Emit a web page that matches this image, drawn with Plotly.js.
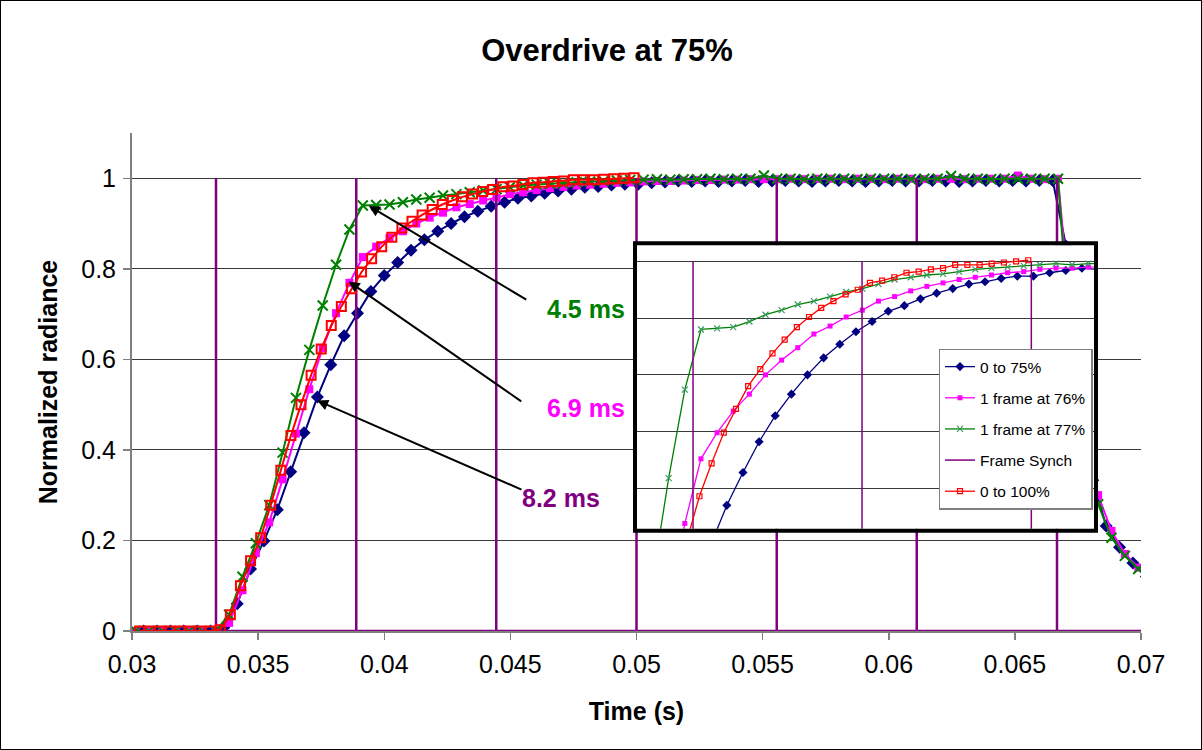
<!DOCTYPE html>
<html>
<head>
<meta charset="utf-8">
<script src="https://cdn.plot.ly/plotly-3.0.1.min.js"></script>
<style>
  html, body { margin: 0; padding: 0; background: #fff; }
  #wrap { position: relative; width: 1202px; height: 750px; }
  #chart { width: 1202px; height: 750px; }
  #frame { position: absolute; left: 0; top: 0; width: 1200px; height: 748px; border: 1px solid #000; pointer-events: none; }
</style>
</head>
<body>
<div id="wrap"><div id="chart"></div><div id="frame"></div></div>
<script>
// ---------- DATA ----------
const seriesNames = ["0 to 75%", "1 frame at 76%", "1 frame at 77%", "Frame Synch", "0 to 100%"];

// "0 to 75%" (blue diamonds)
const blueT = [0.03046, 0.03099, 0.03152, 0.03205, 0.03258, 0.03311, 0.03364, 0.03417, 0.03470, 0.03523,
  0.03576, 0.03629, 0.03682, 0.03735, 0.03788, 0.03841, 0.03894, 0.03947, 0.04000, 0.04053,
  0.04106, 0.04159, 0.04212, 0.04265, 0.04318, 0.04371, 0.04424, 0.04477, 0.04530, 0.04583,
  0.04636, 0.04689, 0.04742, 0.04795, 0.04848, 0.04901, 0.04954, 0.05007, 0.05060, 0.05113,
  0.05166, 0.05219, 0.05272, 0.05325, 0.05378, 0.05431, 0.05484, 0.05537, 0.05590, 0.05643,
  0.05696, 0.05749, 0.05802, 0.05855, 0.05908, 0.05961, 0.06014, 0.06067, 0.06120, 0.06173,
  0.06226, 0.06279, 0.06332, 0.06385, 0.06438, 0.06491, 0.06544, 0.06597, 0.06650, 0.06703,
  0.06756, 0.06809, 0.06862, 0.06915, 0.06968, 0.07021];
const blueY = [0, 0, 0, 0, 0, 0, 0.008, 0.060, 0.137, 0.199,
  0.268, 0.352, 0.438, 0.517, 0.588, 0.652, 0.702, 0.750, 0.785, 0.814,
  0.841, 0.864, 0.883, 0.900, 0.915, 0.927, 0.938, 0.947, 0.956, 0.961,
  0.967, 0.972, 0.976, 0.980, 0.982, 0.985, 0.987, 0.987, 0.990, 0.992,
  0.994, 0.993, 0.994, 0.993, 0.994, 0.995, 0.993, 0.994, 0.995, 0.994,
  0.993, 0.994, 0.995, 0.994, 0.993, 0.994, 0.995, 0.994, 0.994, 0.995,
  0.994, 0.993, 0.994, 0.995, 0.994, 0.995, 0.994, 0.995, 0.995, 0.850,
  0.550, 0.333, 0.232, 0.185, 0.150, 0.120];

// "1 frame at 76%" (magenta squares) and "1 frame at 77%" (green crosses) share one time base
const pgT = [0.03014, 0.03067, 0.03120, 0.03173, 0.03226, 0.03279, 0.03332, 0.03385, 0.03438, 0.03491,
  0.03544, 0.03597, 0.03650, 0.03703, 0.03756, 0.03809, 0.03862, 0.03915, 0.03968, 0.04021,
  0.04074, 0.04127, 0.04180, 0.04233, 0.04286, 0.04339, 0.04392, 0.04445, 0.04498, 0.04551,
  0.04604, 0.04657, 0.04710, 0.04763, 0.04816, 0.04869, 0.04922, 0.04975, 0.05028, 0.05081,
  0.05134, 0.05187, 0.05240, 0.05293, 0.05346, 0.05399, 0.05452, 0.05505, 0.05558, 0.05611,
  0.05664, 0.05717, 0.05770, 0.05823, 0.05876, 0.05929, 0.05982, 0.06035, 0.06088, 0.06141,
  0.06194, 0.06247, 0.06300, 0.06353, 0.06406, 0.06459, 0.06512, 0.06565, 0.06618, 0.06671,
  0.06724, 0.06777, 0.06830, 0.06883, 0.06936, 0.06989, 0.07042];
const pinkY = [0, 0, 0, 0, 0, 0, 0, 0.018, 0.090, 0.172,
  0.240, 0.335, 0.436, 0.534, 0.625, 0.702, 0.769, 0.826, 0.849, 0.868,
  0.883, 0.900, 0.913, 0.924, 0.936, 0.943, 0.951, 0.957, 0.965, 0.969,
  0.974, 0.978, 0.981, 0.984, 0.986, 0.988, 0.990, 0.991, 0.993, 0.994,
  0.994, 0.995, 0.996, 0.996, 0.997, 0.997, 0.998, 0.998, 0.998, 0.999,
  0.998, 0.999, 0.999, 0.998, 0.999, 0.999, 0.998, 0.999, 0.999, 0.998,
  0.999, 0.999, 0.998, 0.999, 0.999, 0.999, 1.006, 0.999, 0.998, 0.999,
  0.680, 0.450, 0.300, 0.221, 0.170, 0.140, 0.115];
const greenY = [0, 0, 0, 0, 0, 0, 0, 0.036, 0.120, 0.194,
  0.278, 0.394, 0.515, 0.621, 0.719, 0.809, 0.887, 0.940, 0.941, 0.942,
  0.947, 0.953, 0.957, 0.962, 0.965, 0.969, 0.973, 0.976, 0.980, 0.984,
  0.986, 0.988, 0.989, 0.991, 0.993, 0.994, 0.995, 0.996, 0.997, 0.998,
  0.997, 0.998, 0.998, 0.999, 0.998, 0.999, 0.999, 1.006, 0.999, 0.999,
  0.998, 0.999, 0.999, 0.999, 0.998, 0.999, 0.999, 0.999, 0.998, 0.999,
  0.999, 1.005, 0.999, 0.999, 0.998, 0.999, 0.999, 0.999, 0.999, 0.999,
  0.600, 0.400, 0.280, 0.206, 0.166, 0.137, 0.110];

// "0 to 100%" (red open squares)
const redT = [0.0303, 0.0307, 0.0311, 0.0315, 0.0319, 0.0323, 0.0327, 0.0331, 0.0335, 0.0339,
  0.0343, 0.0347, 0.0351, 0.0355, 0.0359, 0.0363, 0.0367, 0.0371, 0.0375, 0.0379,
  0.0383, 0.0387, 0.0391, 0.0395, 0.0399, 0.0403, 0.0407, 0.0411, 0.0415, 0.0419,
  0.0423, 0.0427, 0.0431, 0.0435, 0.0439, 0.0443, 0.0447, 0.0451, 0.0455, 0.0459,
  0.0463, 0.0467, 0.0471, 0.0475, 0.0479, 0.0483, 0.0487, 0.0491, 0.0495, 0.0499];
const redY = [0, 0, 0, 0, 0, 0, 0, 0, 0.003, 0.036,
  0.100, 0.155, 0.206, 0.278, 0.355, 0.432, 0.500, 0.565, 0.623, 0.675,
  0.717, 0.756, 0.793, 0.822, 0.849, 0.870, 0.890, 0.905, 0.919, 0.931,
  0.942, 0.951, 0.959, 0.965, 0.971, 0.975, 0.981, 0.983, 0.986, 0.990,
  0.991, 0.993, 0.994, 0.997, 0.997, 0.997, 0.998, 0.999, 1.000, 1.001];

// "Frame Synch": pulse times, pulse height, end of the record
const frameTimes = [0.03333, 0.03889, 0.04444, 0.05000, 0.05556, 0.06111, 0.06667];
const frameHigh = 1;
const frameEnd = 0.0725;

// Callouts
const callouts = [
  {text: "4.5 ms", color: "#008000", head: [0.03939, 0.939], tail: [0.04569, 0.730], label: [0.04800, 0.712]},
  {text: "6.9 ms", color: "#FF00FF", head: [0.03859, 0.772], tail: [0.04549, 0.505], label: [0.04800, 0.492]},
  {text: "8.2 ms", color: "#800080", head: [0.03734, 0.509], tail: [0.04550, 0.311], label: [0.04700, 0.294]}
];

// ---------- BUILD ----------
const frameX = [], frameY = [];
frameTimes.forEach(t => { frameX.push(t, t, t); frameY.push(0, frameHigh, 0); });
frameX.push(frameEnd); frameY.push(0);

const FONT = "Liberation Sans, Arial, sans-serif";
const C = {blue: "#000080", pink: "#FF00FF", green: "#008000", purple: "#800080", red: "#FF0000"};

function makeSet(inset) {
  const lw = inset ? 1.3 : 2;
  const sfx = inset ? "2" : "";
  const common = {xaxis: "x" + sfx, yaxis: "y" + sfx, mode: "lines+markers", showlegend: inset, hoverinfo: "skip"};
  return [
    Object.assign({}, common, {name: seriesNames[0], legendgroup: "g0", legendrank: 1, x: blueT, y: blueY,
      line: {color: C.blue, width: lw}, marker: {symbol: "diamond", size: inset ? 7 : 10, color: C.blue}}),
    Object.assign({}, common, {name: seriesNames[1], legendgroup: "g1", legendrank: 2, x: pgT, y: pinkY,
      line: {color: C.pink, width: lw}, marker: {symbol: "square", size: inset ? 5 : 8, color: C.pink}}),
    Object.assign({}, common, {name: seriesNames[2], legendgroup: "g2", legendrank: 3, x: pgT, y: greenY,
      line: {color: C.green, width: lw}, marker: {symbol: "x-thin", size: inset ? 6 : 10, color: inset ? "#3c9a64" : C.green,
      line: {color: inset ? "#3c9a64" : C.green, width: inset ? 1.2 : 2}}}),
    Object.assign({}, common, {name: seriesNames[3], legendgroup: "g3", legendrank: 4, x: frameX, y: frameY, mode: "lines",
      line: {color: C.purple, width: inset ? 1.5 : 2.5}}),
    Object.assign({}, common, {name: seriesNames[4], legendgroup: "g4", legendrank: 5, x: redT, y: redY,
      line: {color: C.red, width: lw}, marker: {symbol: "square-open", size: inset ? 5 : 9, color: C.red,
      line: {color: C.red, width: inset ? 1.2 : 2}}})
  ];
}

const data = makeSet(false).concat(makeSet(true));

// pixel helpers for placing the inset (plot area: x 132..1141, y 132.7..631.3)
const PL = 132, PR = 1141, PT = 132.7, PB = 631.3;
const px2paperX = p => (p - PL) / (PR - PL);
const px2paperY = p => (PB - p) / (PB - PT);

const annotations = [];
callouts.forEach(c => {
  annotations.push({x: c.head[0], y: c.head[1], ax: c.tail[0], ay: c.tail[1], xref: "x", yref: "y", axref: "x", ayref: "y",
    text: "", showarrow: true, arrowhead: 2, arrowsize: 1.1, arrowwidth: 2, arrowcolor: "#000", standoff: 0});
  annotations.push({x: c.label[0], y: c.label[1], xref: "x", yref: "y", text: "<b>" + c.text + "</b>", showarrow: false,
    font: {family: FONT, size: 25, color: c.color}});
});

const layout = {
  width: 1202, height: 750,
  paper_bgcolor: "#fff", plot_bgcolor: "#fff",
  margin: {l: PL, r: 1202 - PR, t: PT, b: 750 - PB, pad: 0},
  font: {family: FONT, color: "#000", size: 25},
  title: {text: "<b>Overdrive at 75%</b>", font: {family: FONT, size: 31, color: "#000"},
    xref: "container", yref: "container", x: 0.505, y: 1 - 50 / 750, xanchor: "center", yanchor: "middle"},
  xaxis: {domain: [0, 1], range: [0.03, 0.07], dtick: 0.005, tick0: 0.03, showgrid: false, zeroline: false,
    showline: true, linecolor: "#808080", linewidth: 1.5, ticks: "outside", ticklen: 7, tickwidth: 1.5, tickcolor: "#808080",
    ticklabelstandoff: 3, tickfont: {family: FONT, size: 25, color: "#000"},
    title: {text: "<b>Time (s)</b>", font: {family: FONT, size: 25, color: "#000"}, standoff: 26}},
  yaxis: {domain: [0, 1], range: [0, 1.1], dtick: 0.2, tick0: 0, showgrid: true, gridcolor: "#3a3a3a", gridwidth: 1,
    zeroline: false, showline: true, linecolor: "#808080", linewidth: 2, ticks: "outside", ticklen: 7, tickwidth: 1.5,
    tickcolor: "#808080", ticklabelstandoff: 2, tickfont: {family: FONT, size: 25, color: "#000"},
    title: {text: "<b>Normalized radiance</b>", font: {family: FONT, size: 25, color: "#000"}, standoff: 16}},
  xaxis2: {domain: [px2paperX(637), px2paperX(1094)], anchor: "y2", range: [0.03705, 0.052058],
    showgrid: false, zeroline: false, showline: false, showticklabels: false, ticks: ""},
  yaxis2: {domain: [px2paperY(529), px2paperY(245)], anchor: "x2", range: [0.7643, 1.0143], dtick: 0.05, tick0: 0,
    showgrid: true, gridcolor: "#3a3a3a", gridwidth: 1, zeroline: false, showline: false, showticklabels: false, ticks: ""},
  shapes: [
    {type: "rect", xref: "paper", yref: "paper", layer: "above",
      x0: px2paperX(635), x1: px2paperX(1096), y0: px2paperY(531), y1: px2paperY(243),
      line: {color: "#000", width: 4}, fillcolor: "rgba(0,0,0,0)"}
  ],
  legend: {x: px2paperX(938.5), y: px2paperY(348.5), xanchor: "left", yanchor: "top", bgcolor: "#fff",
    bordercolor: "#808080", borderwidth: 1.5, font: {family: FONT, size: 15.5, color: "#000"},
    tracegroupgap: 8, traceorder: "grouped", itemwidth: 30},
  annotations: annotations,
  showlegend: true
};

Plotly.newPlot("chart", data, layout, {displayModeBar: false, staticPlot: true});
</script>
</body>
</html>
